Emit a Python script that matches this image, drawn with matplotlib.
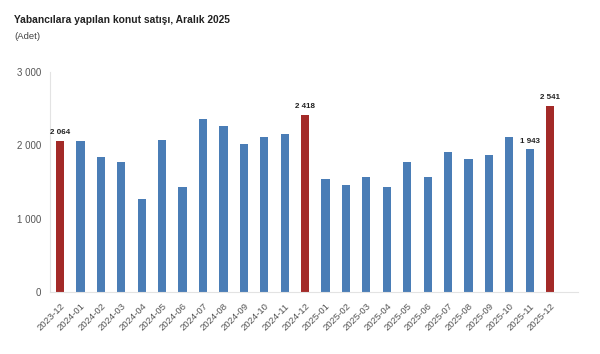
import matplotlib.pyplot as plt
import numpy as np

plt.rcParams["font.family"] = ["Liberation Sans", "DejaVu Sans"]

# --- data ---
months = ["2023-12", "2024-01", "2024-02", "2024-03", "2024-04", "2024-05", "2024-06",
          "2024-07", "2024-08", "2024-09", "2024-10", "2024-11", "2024-12",
          "2025-01", "2025-02", "2025-03", "2025-04", "2025-05", "2025-06",
          "2025-07", "2025-08", "2025-09", "2025-10", "2025-11", "2025-12"]
sales = [2064, 2060, 1845, 1776, 1269, 2068, 1438, 2351, 2260, 2018, 2119, 2150, 2418,
         1543, 1457, 1571, 1438, 1772, 1566, 1913, 1813, 1868, 2110, 1943, 2541]
highlight = ["2023-12", "2024-12", "2025-12"]   # December bars in red
labelled = ["2023-12", "2024-12", "2025-11", "2025-12"]

BLUE = "#4a7db6"
RED = "#a32a28"
GREY = "#555555"

fig = plt.figure(figsize=(6, 3.54), dpi=100)
ax = fig.add_axes([0.083, 0.175, 0.88, 0.622])

x = np.arange(len(months))
colors = [RED if m in highlight else BLUE for m in months]
ax.bar(x, sales, width=0.4, color=colors, zorder=2)

for xi, m, v in zip(x, months, sales):
    if m in labelled:
        ax.text(xi, v + 60, f"{v:,}".replace(",", " "), ha="center", va="bottom",
                fontsize=5.8, fontweight="bold", color="#222222")

ax.set_xlim(-0.5, 25.35)
ax.set_ylim(0, 3000)
ax.set_yticks([0, 1000, 2000, 3000])
ax.set_yticklabels(["0", "1 000", "2 000", "3 000"], fontsize=7, color=GREY)
ax.set_xticks(x)
ax.set_xticklabels(months, rotation=45, ha="right", rotation_mode="anchor",
                   fontsize=6.8, color=GREY)
ax.tick_params(axis="both", length=0)
ax.tick_params(axis="y", pad=6)
ax.tick_params(axis="x", pad=7)

for side in ["top", "right"]:
    ax.spines[side].set_visible(False)
for side in ["left", "bottom"]:
    ax.spines[side].set_color("#e3e3e3")
    ax.spines[side].set_linewidth(0.8)

fig.text(0.024, 0.944, "Yabancılara yapılan konut satışı, Aralık 2025",
         fontsize=7.4, fontweight="bold", color="#222222", va="center")
fig.text(0.024, 0.896, "(Adet)", fontsize=6.8, color="#444444", va="center")

fig.savefig("out.png", dpi=100)
